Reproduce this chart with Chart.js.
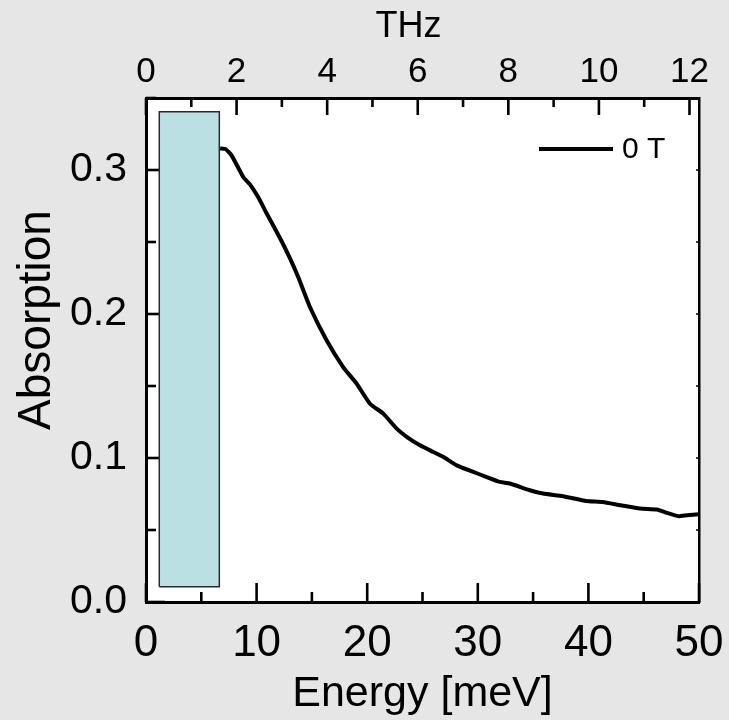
<!DOCTYPE html>
<html lang="en">
<head>
  <meta charset="UTF-8" />
  <title>Absorption vs Energy</title>
  <script src="https://cdn.jsdelivr.net/npm/chart.js"></script>
  <style>
    body { margin: 0; background: #e6e6e6; }
    #wrap { width: 729px; height: 720px; }
  </style>
</head>
<body>
  <div id="wrap"><canvas id="absChart" width="729" height="720"></canvas></div>

  <script>
    // curve (meV, absorption)
    const energy = [6.7, 7.2, 7.75, 8.8, 9.4, 10.15, 10.9, 12.1, 13.0, 13.77, 14.83, 16.34, 17.84, 19.05, 20.25,
      21.46, 22.67, 23.7, 24.77, 25.98, 26.9, 28.1, 29.6, 30.8, 32.0, 32.9, 34.7, 35.9, 37.7, 39.8, 41.3,
      42.9, 44.7, 46.2, 47.1, 48.15, 48.9, 50.0];
    const absorption = [0.315, 0.3145, 0.310, 0.295, 0.290, 0.281, 0.270, 0.253, 0.239, 0.2255, 0.2047, 0.1816, 0.163, 0.1516, 0.1377,
      0.1308, 0.1204, 0.114, 0.1088, 0.1042, 0.1007, 0.0949, 0.0903, 0.0868, 0.0834, 0.0823, 0.0776, 0.0753, 0.0735, 0.0702, 0.0695,
      0.0672, 0.0649, 0.0642, 0.0619, 0.0596, 0.0603, 0.061];

    // shaded band (meV range, absorption range)
    const bandX = [1.2, 6.63];
    const bandY = [0.0106, 0.3405];

    const xTicks = [0, 10, 20, 30, 40, 50];
    const yTicks = [0, 0.1, 0.2, 0.3];
    const thzTicks = [0, 2, 4, 6, 8, 10, 12];
    const thzMax = 12.21;

    const FONT = "'Liberation Sans', Arial, sans-serif";

    const bandPts = [
      {x: bandX[0], y: bandY[0]}, {x: bandX[0], y: bandY[1]},
      {x: bandX[1], y: bandY[1]}, {x: bandX[1], y: bandY[0]},
      {x: bandX[0], y: bandY[0]}
    ];

    function setTicks(list) {
      return s => { s.ticks = list.map(v => ({ value: v })); };
    }

    // invisible tick marks, only used to space the labels
    const hiddenGrid = len => ({ display: true, color: 'rgba(0,0,0,0)', drawOnChartArea: false, drawTicks: true, tickLength: len });

    // white plot area
    const plotBg = {
      id: 'plotBg',
      beforeDraw(chart) {
        const { ctx, chartArea: a } = chart;
        ctx.save();
        ctx.fillStyle = '#fff';
        ctx.fillRect(a.left, a.top, a.right - a.left, a.bottom - a.top);
        ctx.restore();
      }
    };

    // inward tick marks, major + minor
    const tickMarks = {
      id: 'tickMarks',
      beforeDatasetsDraw(chart) {
        const { ctx, chartArea: a, scales } = chart;
        ctx.save();
        ctx.strokeStyle = '#000';
        ctx.lineWidth = 2.6;
        const minors = vals => vals.slice(1).map((v, i) => (v + vals[i]) / 2);
        const line = (x1, y1, x2, y2) => { ctx.beginPath(); ctx.moveTo(x1, y1); ctx.lineTo(x2, y2); ctx.stroke(); };

        const xv = scales.x.ticks.map(t => t.value);
        xv.forEach(v => { const p = scales.x.getPixelForValue(v); line(p, a.bottom, p, a.bottom - 19); });
        minors(xv).forEach(v => { const p = scales.x.getPixelForValue(v); line(p, a.bottom, p, a.bottom - 10); });

        const tv = scales.thz.ticks.map(t => t.value);
        tv.forEach(v => { const p = scales.thz.getPixelForValue(v); line(p, a.top, p, a.top + 17); });
        minors(tv).forEach(v => { const p = scales.thz.getPixelForValue(v); line(p, a.top, p, a.top + 9); });

        const yv = scales.y.ticks.map(t => t.value);
        const ym = minors(yv).concat([yv[yv.length - 1] + (yv[1] - yv[0]) / 2]);
        yv.forEach(v => { const p = scales.y.getPixelForValue(v); line(a.left, p, a.left + 19, p); });
        ym.forEach(v => { const p = scales.y.getPixelForValue(v); line(a.left, p, a.left + 10, p); });

        ctx.lineWidth = 1.5;
        yv.concat(ym).forEach(v => { const p = scales.y.getPixelForValue(v); line(a.right, p, a.right - 3, p); });
        ctx.restore();
      }
    };

    // legend inside the frame + axis titles that sit off-centre in the original
    const extras = {
      id: 'extras',
      afterDraw(chart) {
        const { ctx, chartArea: a } = chart;
        const ds = chart.data.datasets[0];
        ctx.save();
        ctx.strokeStyle = ds.borderColor;
        ctx.lineWidth = ds.borderWidth;
        ctx.beginPath();
        ctx.moveTo(a.right - 160, a.top + 51);
        ctx.lineTo(a.right - 86, a.top + 51);
        ctx.stroke();
        ctx.fillStyle = '#000';
        ctx.textBaseline = 'middle';
        ctx.textAlign = 'left';
        ctx.font = '30px ' + FONT;
        ctx.fillText(ds.label, a.right - 77, a.top + 52);

        ctx.textAlign = 'center';
        ctx.textBaseline = 'alphabetic';
        ctx.font = '36px ' + FONT;
        ctx.fillText('THz', (a.left + a.right) / 2 - 14, 37);
        ctx.translate(50, (a.top + a.bottom) / 2 - 30);
        ctx.rotate(-Math.PI / 2);
        ctx.font = '46px ' + FONT;
        ctx.fillText('Absorption', 0, 0);
        ctx.restore();
      }
    };

    new Chart(document.getElementById('absChart'), {
      type: 'line',
      data: {
        datasets: [
          {
            label: '0 T',
            data: energy.map((e, i) => ({ x: e, y: absorption[i] })),
            borderColor: '#000',
            borderWidth: 4,
            pointRadius: 0,
            tension: 0.15,
            fill: false
          },
          {
            label: 'band',
            data: bandPts,
            borderColor: '#2a2a2a',
            borderWidth: 1.5,
            backgroundColor: '#bbe0e3',
            pointRadius: 0,
            tension: 0,
            fill: 'shape'
          }
        ]
      },
      options: {
        responsive: false,
        animation: false,
        layout: { padding: 0 },
        plugins: {
          tooltip: { enabled: false },
          legend: { display: false }
        },
        scales: {
          x: {
            type: 'linear',
            position: 'bottom',
            min: 0, max: 50,
            afterBuildTicks: setTicks(xTicks),
            afterFit: s => { s.height = 118; },
            grid: hiddenGrid(15),
            border: { display: true, color: '#000', width: 3 },
            ticks: { color: '#000', padding: 0, maxRotation: 0, font: { family: FONT, size: 44 } },
            title: { display: true, text: 'Energy [meV]', color: '#000', padding: 0, font: { family: FONT, size: 43 } }
          },
          thz: {
            type: 'linear',
            position: 'top',
            min: 0, max: thzMax,
            afterBuildTicks: setTicks(thzTicks),
            afterFit: s => { s.height = 98; },
            grid: hiddenGrid(5),
            border: { display: true, color: '#000', width: 3 },
            ticks: { color: '#000', padding: 0, maxRotation: 0, font: { family: FONT, size: 35 } }
          },
          y: {
            type: 'linear',
            position: 'left',
            min: 0, max: 0.35,
            afterBuildTicks: setTicks(yTicks),
            afterFit: s => { s.width = 146; },
            grid: hiddenGrid(19),
            border: { display: true, color: '#000', width: 3 },
            ticks: { color: '#000', padding: 0, callback: v => v.toFixed(1), font: { family: FONT, size: 41 } }
          },
          y2: {
            type: 'linear',
            position: 'right',
            min: 0, max: 0.35,
            afterFit: s => { s.width = 30; },
            grid: { display: false, drawTicks: false },
            border: { display: true, color: '#000', width: 2.5 },
            ticks: { display: false }
          }
        }
      },
      plugins: [plotBg, tickMarks, extras]
    });
  </script>
</body>
</html>
